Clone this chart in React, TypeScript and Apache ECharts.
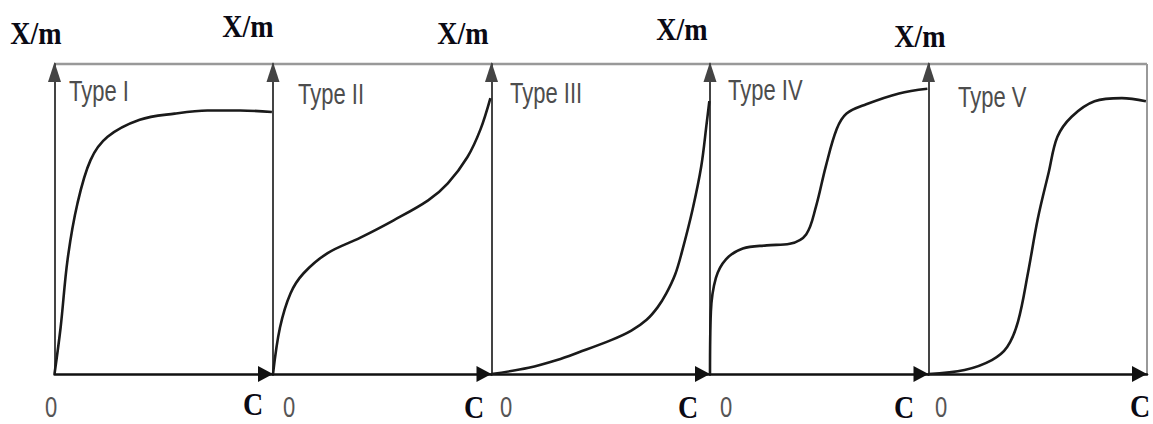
import React, { useEffect, useRef } from "react";
import * as echarts from "echarts";

const panelNames = ["Type I", "Type II", "Type III", "Type IV", "Type V"];
const xAxisLabel = "C";
const yAxisLabel = "X/m";
const originLabel = "0";

const typeI: number[][] = [
  [0, 0], [2.8, 15], [6, 37], [10.5, 55], [16.5, 69], [24.3, 76.5], [39, 82], [55, 84], [70, 85], [85, 85], [99.5, 84.5],
];
const typeII: number[][] = [
  [0, 0], [3.2, 15], [8, 26], [14, 32.5], [25, 39], [40, 44], [55, 49.5], [71, 56], [80, 61.5], [89, 70], [95, 79], [99.5, 89],
];
const typeIII: number[][] = [
  [0, 0], [17, 2], [30, 4.5], [40, 7], [55, 11], [64, 14], [71, 17.5], [76, 21.5], [80, 26], [84, 32], [87, 39], [92, 53], [96, 67], [98.5, 81], [99.7, 88],
];
const typeIV: number[][] = [
  [0, 0], [0.4, 20], [2.7, 31], [7.3, 37], [15, 40.5], [26, 41.5], [36.5, 42], [44, 45], [48.5, 54], [53, 67], [58, 79], [62.5, 84], [71.5, 87], [86.5, 90.5], [99.5, 92],
];
const typeV: number[][] = [
  [0, 0], [16.5, 1.3], [29, 4.5], [36, 8.7], [41, 17], [45.5, 32.5], [50, 50], [55, 65], [59, 76.5], [65.5, 83], [76, 88], [88.5, 89], [99.5, 88],
];
const seriesData = [typeI, typeII, typeIII, typeIV, typeV];

// label placement (pixels)
const yLabelPos = [[36, 33], [248, 26], [463, 33], [682, 29], [920, 36]];
const cLabelPos = [[253, 404], [474, 407], [688, 407], [904, 407], [1140, 406]];
const zeroPos = [[51, 407], [289, 407], [506, 407], [726, 407], [941, 407]];
const typePos = [[69, 91], [298, 94], [510, 93], [728, 90], [958, 97]];

export default function App() {
  const ref = useRef<HTMLDivElement>(null);
  useEffect(() => {
    if (!ref.current) return;
    const chart = echarts.init(ref.current, undefined, { renderer: "svg" });
    const left0 = 54.5;
    const pw = 218.5;
    const top = 64;
    const ph = 310;
    const grids: any[] = [];
    const xAxes: any[] = [];
    const yAxes: any[] = [];
    const series: any[] = [];
    const graphic: any[] = [];
    for (let i = 0; i < 5; i++) {
      grids.push({ left: left0 + pw * i, top, width: pw, height: ph });
      xAxes.push({
        type: "value", gridIndex: i, min: 0, max: 100,
        axisLine: { show: true, symbol: ["none", "triangle"], symbolSize: [16, 15], symbolOffset: [0, -7.5], lineStyle: { color: "#111", width: 2.5 } },
        axisTick: { show: false }, axisLabel: { show: false }, splitLine: { show: false },
      });
      yAxes.push({
        type: "value", gridIndex: i, min: 0, max: 100,
        axisLine: { show: true, symbol: ["none", "triangle"], symbolSize: [13, 20], symbolOffset: [0, -8], lineStyle: { color: "#444", width: 2 } },
        axisTick: { show: false }, axisLabel: { show: false }, splitLine: { show: false },
      });
      series.push({
        type: "line", xAxisIndex: i, yAxisIndex: i, data: seriesData[i], smooth: 0.35,
        showSymbol: false, lineStyle: { color: "#1a1a1a", width: 2.6 }, z: 3,
      });
      graphic.push({
        type: "text", x: yLabelPos[i][0], y: yLabelPos[i][1], scaleY: 1.15,
        style: { text: yAxisLabel, font: "bold 28px 'Liberation Serif'", fill: "#0a0a14", align: "center", verticalAlign: "middle" },
      });
      graphic.push({
        type: "text", x: cLabelPos[i][0], y: cLabelPos[i][1], scaleY: 1.15,
        style: { text: xAxisLabel, font: "bold 28px 'Liberation Serif'", fill: "#0a0a14", align: "center", verticalAlign: "middle" },
      });
      graphic.push({
        type: "text", x: zeroPos[i][0], y: zeroPos[i][1], scaleY: 1.35,
        style: { text: originLabel, font: "22px 'Liberation Sans'", fill: "#555", align: "center", verticalAlign: "middle" },
      });
      graphic.push({
        type: "text", x: typePos[i][0], y: typePos[i][1], scaleY: 1.33,
        style: { text: panelNames[i], font: "22px 'Liberation Sans'", fill: "#4d4d4d", align: "left", verticalAlign: "middle" },
      });
    }
    const right = left0 + pw * 5;
    graphic.push({ type: "line", shape: { x1: left0, y1: top, x2: right, y2: top }, style: { stroke: "#999", lineWidth: 2.5 }, z: 0 });
    graphic.push({ type: "line", shape: { x1: right, y1: top, x2: right, y2: top + ph }, style: { stroke: "#999", lineWidth: 2 }, z: 0 });

    chart.setOption({
      animation: false,
      backgroundColor: "#fff",
      grid: grids,
      xAxis: xAxes,
      yAxis: yAxes,
      series,
      graphic,
    });
    return () => chart.dispose();
  }, []);
  return <div ref={ref} style={{ position: "absolute", left: 0, top: 0, width: 1153, height: 424 }} />;
}
